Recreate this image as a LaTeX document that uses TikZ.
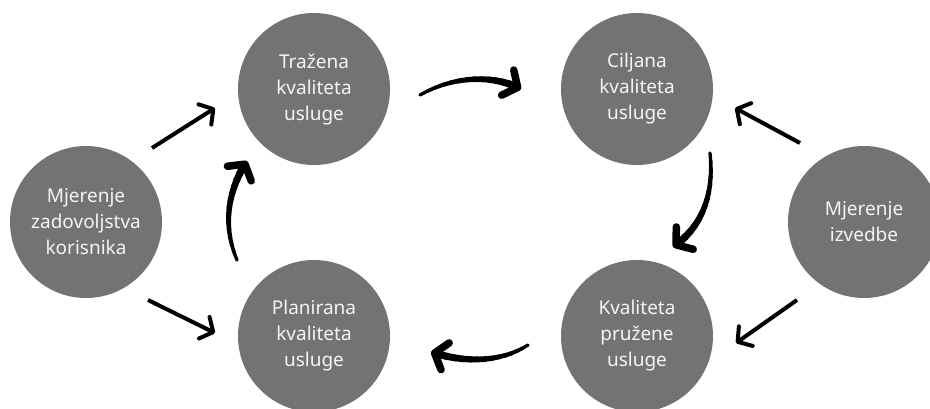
\documentclass[tikz,border=0pt]{standalone}
\usepackage{fontspec}
\setmainfont{Noto Sans}
\usetikzlibrary{arrows.meta,calc}
\definecolor{circ}{HTML}{737373}
\definecolor{txt}{HTML}{F4F4F4}
\newcommand\taperarrow[4]{%
  \path #1 .. controls #2 and #3 .. #4
    \foreach \k [evaluate=\k as \p using \k/14] in {0,...,14}{ coordinate[pos=\p] (tp\k) };
  \foreach \k [evaluate=\k as \w using 3+\k*0.33] in {1,...,13}{%
    \pgfmathtruncatemacro\j{\k-1}%
    \draw[line width=\w pt,line cap=round] (tp\j) -- (tp\k);}
  \draw[thickhead] (tp13) -- (tp14);
}
\begin{document}
\begin{tikzpicture}[x=1pt,y=-1pt,
  bubble/.style={circle,fill=circ,minimum size=152pt,inner sep=0pt,text=txt,
    align=center,font=\fontsize{19}{26}\selectfont},
  thinarrow/.style={line width=4pt,-{Straight Barb[length=10pt,width=24pt,round]}},
  thickhead/.style={line width=7.5pt,line cap=round,-{Straight Barb[length=11pt,width=28pt,round]}}]
\useasboundingbox[fill=white] (0,0) rectangle (930,408);
\node[bubble] (mz) at (86,222) {Mjerenje\\zadovoljstva\\korisnika};
\node[bubble] (tr) at (314,89) {Tražena\\kvaliteta\\usluge};
\node[bubble] (pl) at (314,336) {Planirana\\kvaliteta\\usluge};
\node[bubble] (ci) at (637,89) {Ciljana\\kvaliteta\\usluge};
\node[bubble] (kp) at (637,336) {Kvaliteta\\pružene\\usluge};
\node[bubble] (mi) at (864,222) {Mjerenje\\izvedbe};
% thin straight arrows
\draw[thinarrow] ($(mz)+(66,-74)$) -- ($(tr)+(-99,19)$);
\draw[thinarrow] ($(mz)+(62,78)$) -- ($(pl)+(-99,-3)$);
\draw[thinarrow] ($(mi)+(-64,-79)$) -- ($(ci)+(98,19)$);
\draw[thinarrow] ($(mi)+(-67,78)$) -- ($(kp)+(99,7)$);
% thick curved arrows (tapered)
\taperarrow{($(tr)+(106,6)$)}{($(tr)+(141,-14)$)}{($(ci)+(-142,-14)$)}{($(ci)+(-116,0)$)}
\taperarrow{($(ci)+(73,64)$)}{($(ci)+(77,101)$)}{($(kp)+(68,-111)$)}{($(kp)+(36,-89)$)}
\taperarrow{($(kp)+(-109,9)$)}{($(kp)+(-132,24)$)}{($(pl)+(156,29)$)}{($(pl)+(117,16)$)}
\taperarrow{($(pl)+(-77,-76)$)}{($(pl)+(-92,-111)$)}{($(tr)+(-86,101)$)}{($(tr)+(-67,72)$)}
\end{tikzpicture}
\end{document}
